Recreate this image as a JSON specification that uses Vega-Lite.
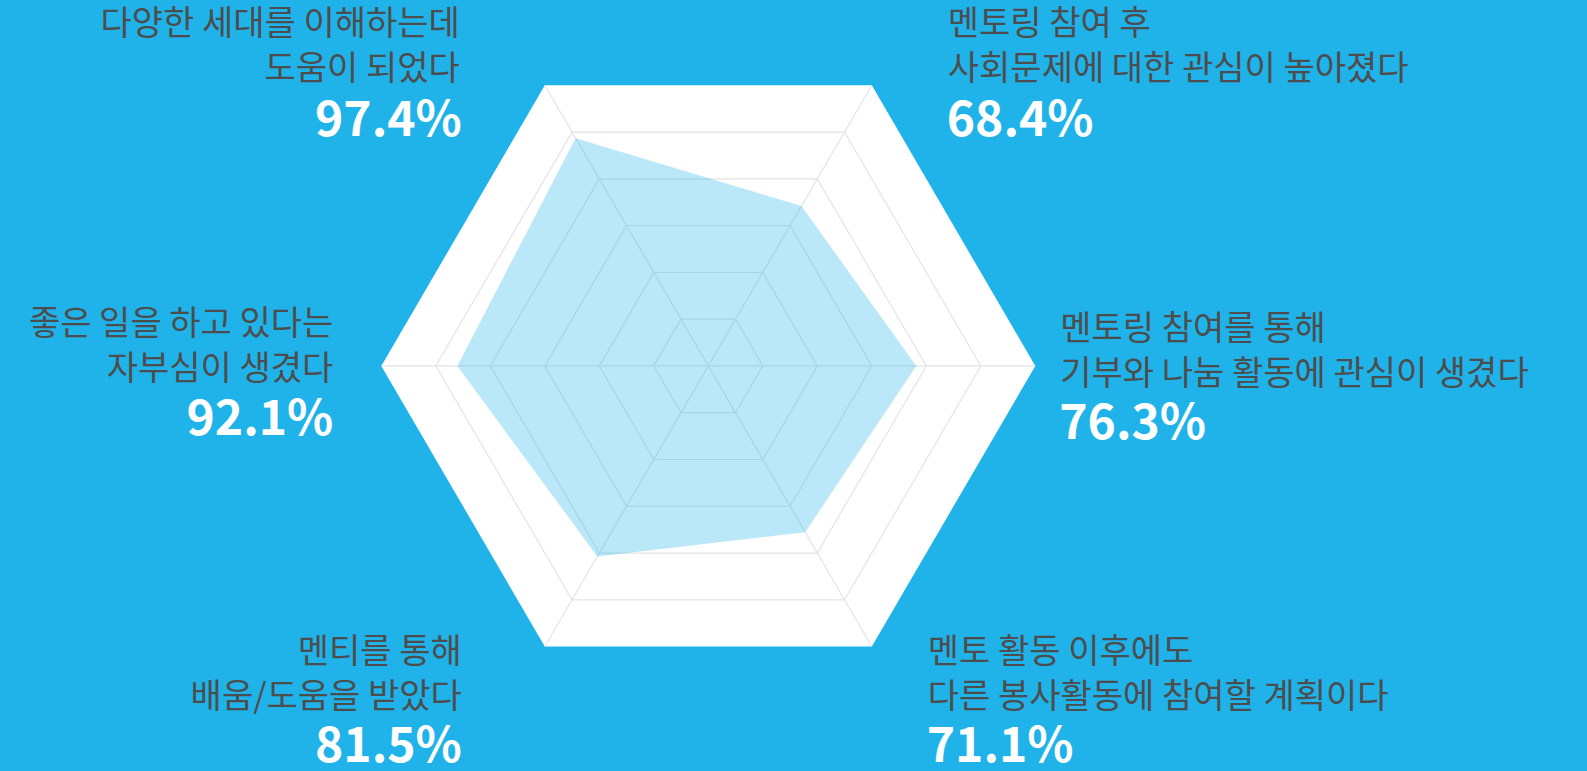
{
  "$schema": "https://vega.github.io/schema/vega-lite/v6.json",
  "autosize": {"type": "fit", "contains": "padding"},
  "width": 1587,
  "height": 771,
  "padding": 0,
  "background": "#1fb3e9",
  "config": {"view": {"stroke": null}, "text": {"font": "Noto Sans CJK KR"}},
  "datasets": {
    "items": [
      {"k": 0, "lines": ["다양한 세대를 이해하는데\u00a0", "도움이 되었다"], "value": 97.4},
      {"k": 1, "lines": ["멘토링 참여 후", "사회문제에 대한 관심이 높아졌다"], "value": 68.4},
      {"k": 2, "lines": ["멘토링 참여를 통해", "기부와 나눔 활동에 관심이 생겼다"], "value": 76.3},
      {"k": 3, "lines": ["멘토 활동 이후에도", "다른 봉사활동에 참여할 계획이다"], "value": 71.1},
      {"k": 4, "lines": ["멘티를 통해\u00a0", "배움/도움을 받았다"], "value": 81.5},
      {"k": 5, "lines": ["좋은 일을 하고 있다는", "자부심이 생겼다"], "value": 92.1}
    ],
    "rings": [
      {"level": 20, "k": 0}, {"level": 20, "k": 1}, {"level": 20, "k": 2}, {"level": 20, "k": 3}, {"level": 20, "k": 4}, {"level": 20, "k": 5},
      {"level": 40, "k": 0}, {"level": 40, "k": 1}, {"level": 40, "k": 2}, {"level": 40, "k": 3}, {"level": 40, "k": 4}, {"level": 40, "k": 5},
      {"level": 60, "k": 0}, {"level": 60, "k": 1}, {"level": 60, "k": 2}, {"level": 60, "k": 3}, {"level": 60, "k": 4}, {"level": 60, "k": 5},
      {"level": 80, "k": 0}, {"level": 80, "k": 1}, {"level": 80, "k": 2}, {"level": 80, "k": 3}, {"level": 80, "k": 4}, {"level": 80, "k": 5},
      {"level": 100, "k": 0}, {"level": 100, "k": 1}, {"level": 100, "k": 2}, {"level": 100, "k": 3}, {"level": 100, "k": 4}, {"level": 100, "k": 5},
      {"level": 120, "k": 0}, {"level": 120, "k": 1}, {"level": 120, "k": 2}, {"level": 120, "k": 3}, {"level": 120, "k": 4}, {"level": 120, "k": 5}
    ]
  },
  "resolve": {"scale": {"x": "shared", "y": "shared"}},
  "layer": [
    {
      "data": {"name": "rings"},
      "transform": [
        {"filter": "datum.level == 120"},
        {"calculate": "datum.level * cos((120 - 60 * datum.k) * PI / 180)", "as": "x"},
        {"calculate": "datum.level * sin((120 - 60 * datum.k) * PI / 180)", "as": "y"}
      ],
      "mark": {"type": "line", "filled": true, "interpolate": "linear-closed", "fill": "#ffffff", "strokeWidth": 0},
      "encoding": {
        "x": {"field": "x", "type": "quantitative", "scale": {"domain": [-259.93, 322.46], "nice": false, "zero": false}, "axis": null},
        "y": {"field": "y", "type": "quantitative", "scale": {"domain": [-147.41, 135.52], "nice": false, "zero": false}, "axis": null},
        "order": {"field": "k", "type": "quantitative"}
      }
    },
    {
      "data": {"name": "rings"},
      "transform": [
        {"filter": "datum.level < 120"},
        {"calculate": "datum.level * cos((120 - 60 * datum.k) * PI / 180)", "as": "x"},
        {"calculate": "datum.level * sin((120 - 60 * datum.k) * PI / 180)", "as": "y"}
      ],
      "mark": {"type": "line", "interpolate": "linear-closed", "stroke": "#e4e4e4", "strokeWidth": 1.2},
      "encoding": {
        "x": {"field": "x", "type": "quantitative"},
        "y": {"field": "y", "type": "quantitative"},
        "detail": {"field": "level", "type": "nominal"},
        "order": {"field": "k", "type": "quantitative"}
      }
    },
    {
      "data": {"name": "rings"},
      "transform": [
        {"filter": "datum.level == 120"},
        {"calculate": "datum.level * cos((120 - 60 * datum.k) * PI / 180)", "as": "x"},
        {"calculate": "datum.level * sin((120 - 60 * datum.k) * PI / 180)", "as": "y"}
      ],
      "mark": {"type": "rule", "stroke": "#e4e4e4", "strokeWidth": 1.2},
      "encoding": {
        "x": {"field": "x", "type": "quantitative"},
        "y": {"field": "y", "type": "quantitative"},
        "x2": {"datum": 0},
        "y2": {"datum": 0}
      }
    },
    {
      "data": {"name": "items"},
      "transform": [
        {"calculate": "datum.value * cos((120 - 60 * datum.k) * PI / 180)", "as": "x"},
        {"calculate": "datum.value * sin((120 - 60 * datum.k) * PI / 180)", "as": "y"}
      ],
      "mark": {"type": "line", "filled": true, "interpolate": "linear-closed", "fill": "#1fb3e9", "fillOpacity": 0.3, "strokeWidth": 0},
      "encoding": {
        "x": {"field": "x", "type": "quantitative"},
        "y": {"field": "y", "type": "quantitative"},
        "order": {"field": "k", "type": "quantitative"}
      }
    },
    {
      "data": {"name": "items"},
      "transform": [
        {"calculate": "120 * cos((120 - 60 * datum.k) * PI / 180)", "as": "x"},
        {"calculate": "120 * sin((120 - 60 * datum.k) * PI / 180)", "as": "y"},
        {"calculate": "format(datum.value, '.1f') + '%'", "as": "pct"}
      ],
      "encoding": {
        "x": {"field": "x", "type": "quantitative"},
        "y": {"field": "y", "type": "quantitative"}
      },
      "layer": [
        {"transform": [{"filter": "datum.k == 0"}], "mark": {"type": "text", "align": "right", "baseline": "alphabetic", "dx": -85, "dy": -50, "fontSize": 34, "lineHeight": 45, "fill": "#4d4d4d"}, "encoding": {"text": {"field": "lines"}}},
        {"transform": [{"filter": "datum.k == 0"}], "mark": {"type": "text", "align": "right", "baseline": "alphabetic", "dx": -83, "dy": 51, "fontSize": 48, "fontWeight": "bold", "fill": "#ffffff"}, "encoding": {"text": {"field": "pct"}}},
        {"transform": [{"filter": "datum.k == 1"}], "mark": {"type": "text", "align": "left", "baseline": "alphabetic", "dx": 76, "dy": -50, "fontSize": 34, "lineHeight": 45, "fill": "#4d4d4d"}, "encoding": {"text": {"field": "lines"}}},
        {"transform": [{"filter": "datum.k == 1"}], "mark": {"type": "text", "align": "left", "baseline": "alphabetic", "dx": 75, "dy": 51, "fontSize": 48, "fontWeight": "bold", "fill": "#ffffff"}, "encoding": {"text": {"field": "pct"}}},
        {"transform": [{"filter": "datum.k == 2"}], "mark": {"type": "text", "align": "left", "baseline": "alphabetic", "dx": 25, "dy": -26, "fontSize": 34, "lineHeight": 45, "fill": "#4d4d4d"}, "encoding": {"text": {"field": "lines"}}},
        {"transform": [{"filter": "datum.k == 2"}], "mark": {"type": "text", "align": "left", "baseline": "alphabetic", "dx": 24, "dy": 73, "fontSize": 48, "fontWeight": "bold", "fill": "#ffffff"}, "encoding": {"text": {"field": "pct"}}},
        {"transform": [{"filter": "datum.k == 3"}], "mark": {"type": "text", "align": "left", "baseline": "alphabetic", "dx": 56, "dy": 16, "fontSize": 34, "lineHeight": 45, "fill": "#4d4d4d"}, "encoding": {"text": {"field": "lines"}}},
        {"transform": [{"filter": "datum.k == 3"}], "mark": {"type": "text", "align": "left", "baseline": "alphabetic", "dx": 55, "dy": 115, "fontSize": 48, "fontWeight": "bold", "fill": "#ffffff"}, "encoding": {"text": {"field": "pct"}}},
        {"transform": [{"filter": "datum.k == 4"}], "mark": {"type": "text", "align": "right", "baseline": "alphabetic", "dx": -83, "dy": 16, "fontSize": 34, "lineHeight": 45, "fill": "#4d4d4d"}, "encoding": {"text": {"field": "lines"}}},
        {"transform": [{"filter": "datum.k == 4"}], "mark": {"type": "text", "align": "right", "baseline": "alphabetic", "dx": -83, "dy": 115, "fontSize": 48, "fontWeight": "bold", "fill": "#ffffff"}, "encoding": {"text": {"field": "pct"}}},
        {"transform": [{"filter": "datum.k == 5"}], "mark": {"type": "text", "align": "right", "baseline": "alphabetic", "dx": -48, "dy": -31, "fontSize": 34, "lineHeight": 45, "fill": "#4d4d4d"}, "encoding": {"text": {"field": "lines"}}},
        {"transform": [{"filter": "datum.k == 5"}], "mark": {"type": "text", "align": "right", "baseline": "alphabetic", "dx": -48, "dy": 69, "fontSize": 48, "fontWeight": "bold", "fill": "#ffffff"}, "encoding": {"text": {"field": "pct"}}}
      ]
    }
  ]
}
